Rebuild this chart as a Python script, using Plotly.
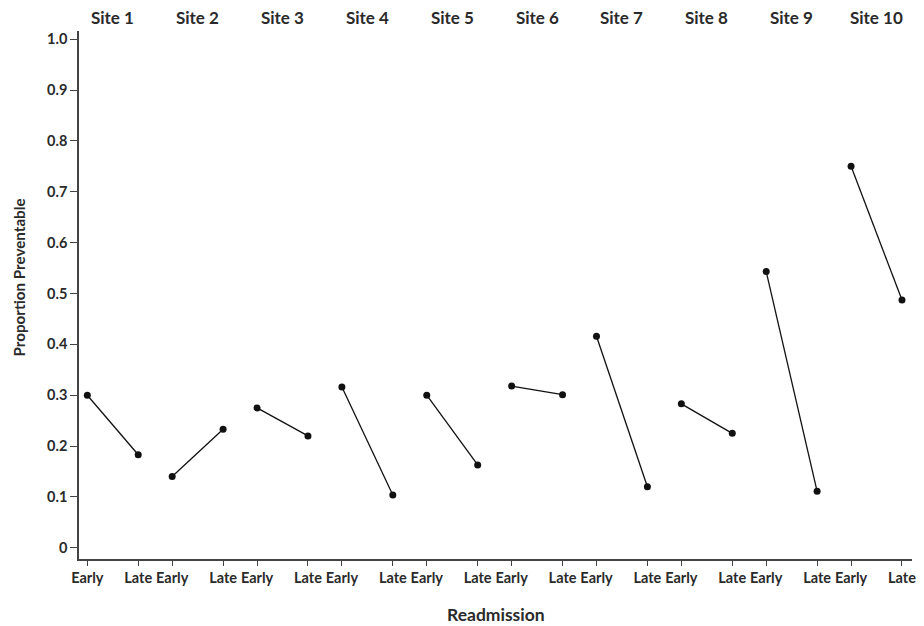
import plotly.graph_objects as go

sites = ["Site 1", "Site 2", "Site 3", "Site 4", "Site 5",
         "Site 6", "Site 7", "Site 8", "Site 9", "Site 10"]
readmission = ["Early", "Late"]
early_vals = [0.300, 0.140, 0.275, 0.316, 0.300, 0.318, 0.416, 0.283, 0.543, 0.750]
late_vals = [0.183, 0.233, 0.220, 0.104, 0.163, 0.301, 0.120, 0.225, 0.111, 0.487]
y_ticks = [0, 0.1, 0.2, 0.3, 0.4, 0.5, 0.6, 0.7, 0.8, 0.9, 1.0]
y_tick_text = ["0", "0.1", "0.2", "0.3", "0.4", "0.5", "0.6", "0.7", "0.8", "0.9", "1.0"]

FONT = "Lato"
TXT = "#2a2a2a"

fig = go.Figure()
tickvals, ticktext = [], []
for i, s in enumerate(sites):
    xe = 5 * i
    xl = 5 * i + 3
    tickvals += [xe, xl]
    ticktext += readmission
    fig.add_trace(go.Scatter(
        x=[xe, xl], y=[early_vals[i], late_vals[i]],
        mode="lines+markers", name=s, showlegend=False,
        line=dict(color="#111111", width=1.3),
        marker=dict(color="#111111", size=7),
    ))
    fig.add_annotation(x=xe + 1.5, y=1.0265, xref="x", yref="paper",
                       text=s, showarrow=False, xanchor="center", yanchor="middle",
                       font=dict(family=FONT, size=17, color=TXT, weight="bold"))

fig.add_annotation(x=-0.0717, y=0.532, xref="paper", yref="y",
                   text="Proportion Preventable", textangle=-90, showarrow=False,
                   xanchor="center", yanchor="middle",
                   font=dict(family=FONT, size=15.2, color=TXT, weight="bold"))
fig.add_annotation(x=0.5, y=-0.105, xref="paper", yref="paper",
                   text="Readmission", showarrow=False,
                   xanchor="center", yanchor="middle",
                   font=dict(family=FONT, size=17.5, color=TXT, weight="bold"))

fig.update_layout(
    width=924, height=626,
    margin=dict(l=79, r=8, t=31, b=67),
    plot_bgcolor="white", paper_bgcolor="white",
    font=dict(family=FONT, size=14.5, color=TXT, weight="bold"),
)
fig.update_xaxes(
    range=[-0.49, 48.59], tickmode="array", tickvals=tickvals, ticktext=ticktext,
    showgrid=False, zeroline=False, showline=True, linecolor="#444444", linewidth=1.5,
    ticks="outside", ticklen=5, tickwidth=1.2, tickcolor="#444444",
)
fig.update_yaxes(
    range=[-0.022, 1.016], tickmode="array", tickvals=y_ticks, ticktext=y_tick_text,
    showgrid=False, zeroline=False, showline=True, linecolor="#444444", linewidth=1.5,
    ticks="outside", ticklen=7, tickwidth=1.2, tickcolor="#444444",
)

fig.write_html("out.html", config={"displayModeBar": False},
               post_script="document.body.style.margin='0px';")
